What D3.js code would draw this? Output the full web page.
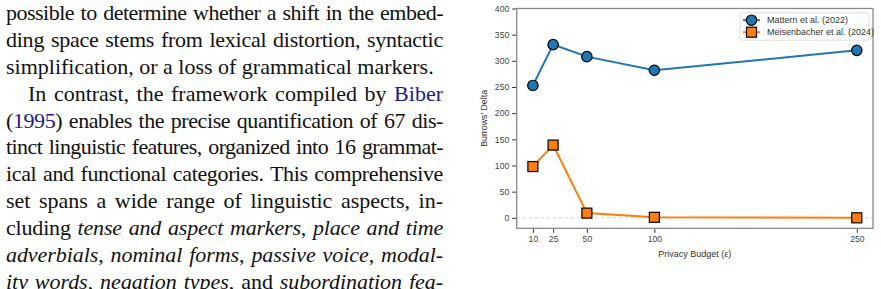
<!DOCTYPE html>
<html>
<head>
<meta charset="utf-8">
<script src="https://cdn.jsdelivr.net/npm/d3@7"></script>
<style>
  body { margin: 0; background: #fff; width: 881px; height: 289px; overflow: hidden; position: relative; }
  #text { position: absolute; left: 6px; top: 0; width: 437px; font-family: "Liberation Serif", "Times New Roman", Times, serif; font-size: 22px; color: #111; }
  #text .line { height: 26.9px; line-height: 26.9px; white-space: nowrap; }
  #text .cite { color: #1a1a8c; }
  svg { position: absolute; left: 0; top: 0; }
  svg text { font-family: "Liberation Sans", Arial, Helvetica, sans-serif; }
</style>
</head>
<body>
<div id="text"></div>
<svg></svg>
<script>
// paragraph lines: [text segments, justify?, indent]
const textLines = [
	[[["possible to determine whether a shift in the embed-", ""]], true, 0],
	[[["ding space stems from lexical distortion, syntactic", ""]], true, 0],
	[[["simplification, or a loss of grammatical markers.", ""]], false, 0],
	[[["In contrast, the framework compiled by ", ""], ["Biber", "cite"]], true, 22],
	[[["(", ""], ["1995", "cite"], [") enables the precise quantification of 67 dis-", ""]], true, 0],
	[[["tinct linguistic features, organized into 16 grammat-", ""]], true, 0],
	[[["ical and functional categories. This comprehensive", ""]], true, 0],
	[[["set spans a wide range of linguistic aspects, in-", ""]], true, 0],
	[[["cluding ", ""], ["tense and aspect markers", "it"], [", ", ""], ["place and time", "it"]], true, 0],
	[[["adverbials", "it"], [", ", ""], ["nominal forms", "it"], [", ", ""], ["passive voice", "it"], [", ", ""], ["modal-", "it"]], true, 0],
	[[["ity words", "it"], [", ", ""], ["negation types", "it"], [", and ", ""], ["subordination fea-", "it"]], true, 0],
];

const budgets = [10, 25, 50, 100, 250];
const matternDelta = [253, 331, 308, 282, 320];
const meisenbacherDelta = [98, 139, 9, 1, 0];
const yTicks = [0, 50, 100, 150, 200, 250, 300, 350, 400];
const seriesNames = ["Mattern et al. (2022)", "Meisenbacher et al. (2024)"];

// ---- text column ----
const colWidth = 437;
const lineDivs = d3.select("#text").selectAll("div.line").data(textLines).enter()
	.append("div").attr("class", "line")
	.style("padding-left", (d) => d[2] + "px");
lineDivs.each(function (d) {
	const span = d3.select(this).append("span");
	span.selectAll("span").data(d[0]).enter().append("span")
		.attr("class", (s) => s[1])
		.style("font-style", (s) => (s[1] === "it" ? "italic" : null))
		.text((s) => s[0]);
	const w = span.node().getBoundingClientRect().width;
	const str = d[0].map((s) => s[0]).join("");
	const spaces = str.split(" ").length - 1;
	let room = colWidth - d[2] - w;
	// squeeze letters a bit when the line is too long for normal word spacing
	if (room < spaces * 1.5 && d[1]) {
		const ls = (room - spaces * 1.5) / str.length;
		span.style("letter-spacing", ls + "px");
		room = spaces * 1.5;
	}
	if (d[1]) span.style("word-spacing", room / spaces + "px");
});

// ---- chart ----
const svg = d3.select("svg").attr("width", 881).attr("height", 289);

const x = d3.scaleLinear().domain([-2, 262]).range([516.7, 873]);
const y = d3.scaleLinear().domain([-20, 400]).range([228.3, 8.5]);

// zero reference line
svg.append("line")
	.attr("x1", x.range()[0]).attr("x2", x.range()[1])
	.attr("y1", y(0)).attr("y2", y(0))
	.attr("stroke", "#d0d0d0").attr("stroke-width", 0.9)
	.attr("stroke-dasharray", "3.5,2.5");

const yAxis = d3.axisLeft(y).tickValues(yTicks).tickSize(4.5).tickPadding(3).tickSizeOuter(0);
const xAxis = d3.axisBottom(x).tickValues(budgets).tickSize(4.5).tickPadding(3).tickSizeOuter(0);

const gy = svg.append("g").attr("transform", `translate(${x.range()[0]},0)`).call(yAxis);
const gx = svg.append("g").attr("transform", `translate(0,${y.range()[0]})`).call(xAxis);
[gy, gx].forEach((g) => {
	g.select(".domain").remove();
	g.selectAll(".tick line").attr("stroke", "#333").attr("stroke-width", 1);
	g.selectAll(".tick text").attr("fill", "#444").style("font-size", "8.6px");
});

// spines
const [x0, x1] = x.range();
const [yb, yt] = y.range();
svg.append("rect")
	.attr("x", x0).attr("y", yt).attr("width", x1 - x0).attr("height", yb - yt)
	.attr("fill", "none").attr("stroke", "#8a8a8a").attr("stroke-width", 1.3);

svg.append("text")
	.attr("transform", `translate(487,${(yt + yb) / 2}) rotate(-90)`)
	.attr("text-anchor", "middle").attr("fill", "#333")
	.style("font-size", "8.8px")
	.text("Burrows' Delta");

svg.append("text")
	.attr("x", (x0 + x1) / 2).attr("y", 256.5)
	.attr("text-anchor", "middle").attr("fill", "#333")
	.style("font-size", "9px")
	.text("Privacy Budget (ε)");

const line = d3.line().x((d, i) => x(budgets[i])).y((d) => y(d));

svg.append("path").attr("d", line(matternDelta))
	.attr("fill", "none").attr("stroke", "#1f77b4").attr("stroke-width", 2);
svg.append("path").attr("d", line(meisenbacherDelta))
	.attr("fill", "none").attr("stroke", "#ff7f0e").attr("stroke-width", 2);

svg.append("g").selectAll("circle").data(matternDelta).enter().append("circle")
	.attr("cx", (d, i) => x(budgets[i])).attr("cy", (d) => y(d)).attr("r", 5.2)
	.attr("fill", "#1f77b4").attr("stroke", "#000").attr("stroke-width", 1.2);

svg.append("g").selectAll("rect").data(meisenbacherDelta).enter().append("rect")
	.attr("x", (d, i) => x(budgets[i]) - 5).attr("y", (d) => y(d) - 5)
	.attr("width", 10).attr("height", 10)
	.attr("fill", "#ff7f0e").attr("stroke", "#000").attr("stroke-width", 1.2);

// legend
const legend = svg.append("g").attr("transform", "translate(740,12.7)");
legend.append("rect").attr("width", 129).attr("height", 27.5).attr("rx", 2)
	.attr("fill", "#fff").attr("fill-opacity", 0.85)
	.attr("stroke", "#d6d6d6").attr("stroke-width", 0.8);
const colors = ["#1f77b4", "#ff7f0e"];
seriesNames.forEach((name, i) => {
	const cy = 7.5 + i * 12;
	legend.append("line").attr("x1", 3).attr("x2", 20).attr("y1", cy).attr("y2", cy)
		.attr("stroke", colors[i]).attr("stroke-width", 2);
	if (i === 0) {
		legend.append("circle").attr("cx", 11.5).attr("cy", cy).attr("r", 5.2)
			.attr("fill", colors[i]).attr("stroke", "#000").attr("stroke-width", 1.2);
	} else {
		legend.append("rect").attr("x", 6.5).attr("y", cy - 5).attr("width", 10).attr("height", 10)
			.attr("fill", colors[i]).attr("stroke", "#000").attr("stroke-width", 1.2);
	}
	legend.append("text").attr("x", 27).attr("y", cy + 3.2)
		.attr("fill", "#333").style("font-size", "9px").text(name);
});
</script>
</body>
</html>
